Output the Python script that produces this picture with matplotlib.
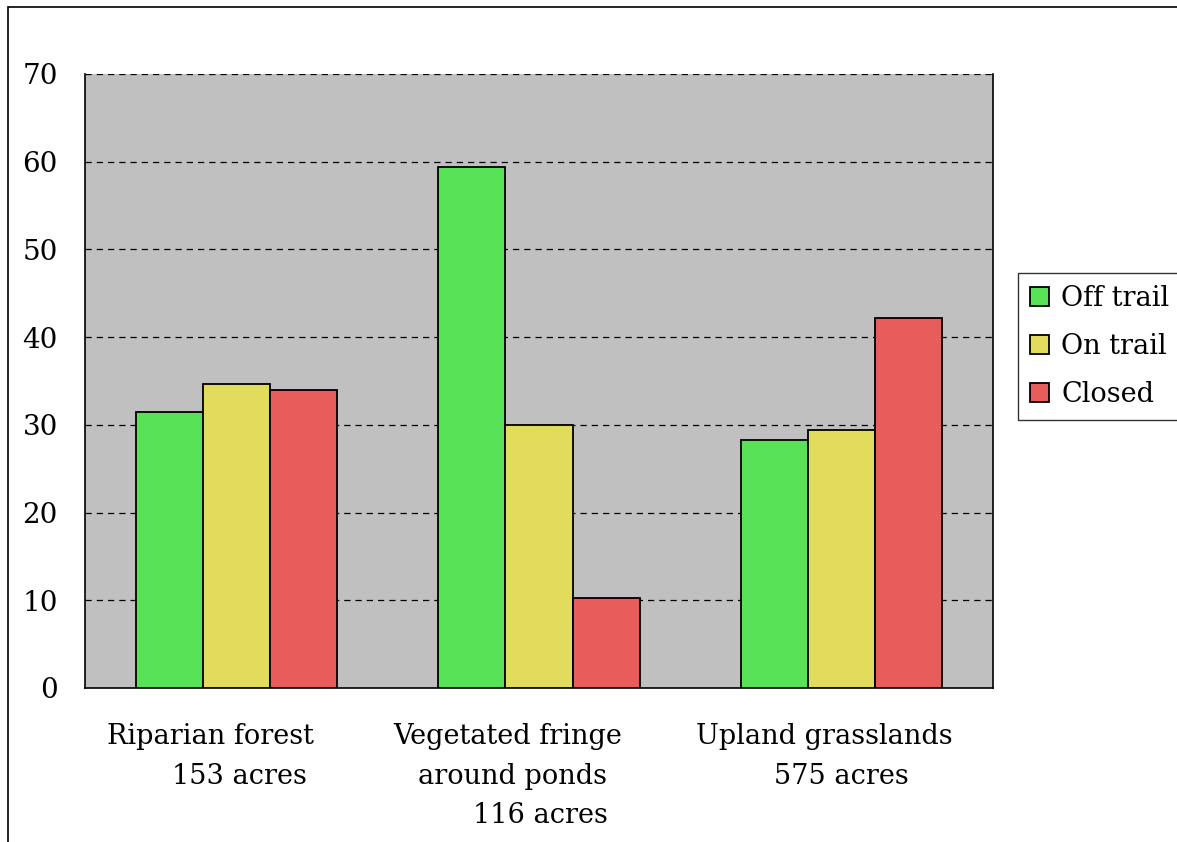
import matplotlib
matplotlib.use("Agg")
import matplotlib.pyplot as plt
from matplotlib.patches import Rectangle
import numpy as np

# Habitat categories (each label split into its printed lines)
habitats = [
    ["Riparian forest", "153 acres"],
    ["Vegetated fringe", "around ponds", "116 acres"],
    ["Upland grasslands", "575 acres"],
]
series_names = ["Off trail", "On trail", "Closed"]
off_trail = [31.5, 59.4, 28.3]
on_trail = [34.7, 30.0, 29.4]
closed = [34.0, 10.3, 42.2]
y_ticks = [0, 10, 20, 30, 40, 50, 60, 70]

colors = ["#58e258", "#e2dc5c", "#e85c5c"]

plt.rcParams["font.family"] = ["DejaVu Serif"]
plt.rcParams["font.size"] = 19

fig = plt.figure(figsize=(11.77, 8.42), dpi=100)
ax = fig.add_axes([85 / 1177, 1 - 688 / 842, 908 / 1177, 614 / 842])
ax.set_facecolor("#c0c0c0")

x = np.arange(len(habitats))
width = 0.222
for k, (vals, name) in enumerate(zip([off_trail, on_trail, closed], series_names)):
    ax.bar(x + (k - 1) * width, vals, width, color=colors[k],
           edgecolor="black", linewidth=1.3, label=name, zorder=3)

ax.set_xlim(-0.5, len(habitats) - 0.5)
ax.set_ylim(0, 70)
ax.set_yticks(y_ticks)
ax.tick_params(axis="y", length=0, pad=19.5, labelsize=20)
ax.set_xticks([])

for y in y_ticks[1:]:
    ax.axhline(y, color="black", linestyle=(0, (5, 4)), linewidth=0.9, zorder=1)

ax.spines["top"].set_visible(False)
for side in ["left", "bottom", "right"]:
    ax.spines[side].set_linewidth(1.2)

# multi-line category labels below the axis, each line nudged (px offsets)
line_shift = [[-26, 3], [-31, -27, 1], [-17, 0]]
for i, lines in enumerate(habitats):
    for j, line in enumerate(lines):
        ax.annotate(line, xy=(i, 0), xycoords=("data", "axes fraction"),
                    xytext=(line_shift[i][j] * 0.72, -(48 + 40 * j) * 0.72),
                    textcoords="offset points", ha="center", va="center",
                    fontsize=19.5, annotation_clip=False)

leg = ax.legend(loc="center left", bbox_to_anchor=(1.0275, 0.556),
                frameon=True, fancybox=False, edgecolor="black",
                handlelength=0.7, handleheight=0.7, handletextpad=0.45,
                borderpad=0.45, labelspacing=0.78, fontsize=19.5, borderaxespad=0)
leg.get_frame().set_linewidth(1.0)

# outer frame around the whole chart
fig.patches.append(Rectangle((8 / 1177, -0.2), 2, 0.2 + 1 - 7 / 842,
                             transform=fig.transFigure, fill=False,
                             edgecolor="black", linewidth=1.2))

fig.savefig("out.png", dpi=100)
